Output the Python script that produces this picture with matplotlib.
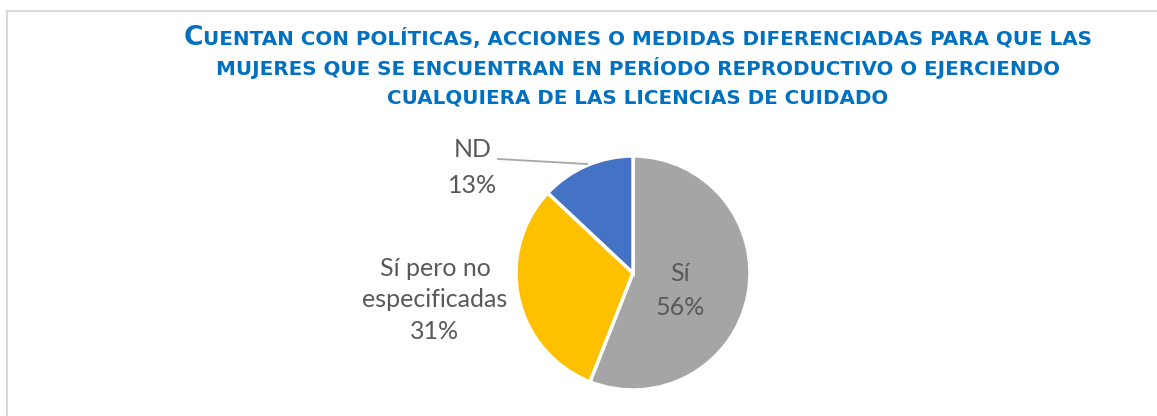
import matplotlib.pyplot as plt
from matplotlib.lines import Line2D

# Data
labels = ['Sí', 'Sí pero no\nespecificadas', 'ND']
values = [56, 31, 13]
colors = ['#A5A5A5', '#FFC000', '#4472C4']
title_lines = ['UENTAN CON POLÍTICAS, ACCIONES O MEDIDAS DIFERENCIADAS PARA QUE LAS',
               'MUJERES QUE SE ENCUENTRAN EN PERÍODO REPRODUCTIVO O EJERCIENDO',
               'CUALQUIERA DE LAS LICENCIAS DE CUIDADO']

W, H = 1157, 416
fig = plt.figure(figsize=(W / 100, H / 100), dpi=100)
ax = fig.add_axes([0, 0, 1, 1])

# pie in pixel space (y up)
cx, cy, r = 633, H - 273, 117
wedges, _ = ax.pie(values, colors=colors, startangle=90, counterclock=False,
                   center=(cx, cy), radius=r, frame=True,
                   wedgeprops=dict(edgecolor='white', linewidth=2.5))
ax.set_xlim(0, W)
ax.set_ylim(0, H)
ax.set_aspect('auto')
ax.axis('off')

# chart area border
ax.add_line(Line2D([7, 7], [0, H - 11], color='#D9D9D9', lw=1.5))
ax.add_line(Line2D([7, W], [H - 11, H - 11], color='#D9D9D9', lw=1.5))

# data labels, one text per line at the reference baselines
lab_font = dict(family='Lato', fontsize=18, color='#595959', ha='center', va='baseline')
label_pos = [(680, [281, 315]), (435, [276, 307, 339]), (473, [157, 193])]
for lab, val, (x, bases) in zip(labels, values, label_pos):
    lines = lab.split('\n') + [f'{val}%']
    for line, b in zip(lines, bases):
        ax.text(x, H - b, line, **lab_font)
ax.plot([498, 587], [H - 159, H - 164], color='#A6A6A6', lw=1.3)

# title (small caps imitation)
tcol = '#0070C0'
tkw = dict(fontweight='bold', family='DejaVu Sans', color=tcol, va='baseline')
renderer = fig.canvas.get_renderer()
ys = [H - 45, H - 75, H - 103]
cxt = 638

# fit the first line to its width in the reference
tfs = 12
big = ax.text(0, ys[0], 'C', fontsize=tfs * 1.33, ha='left', **tkw)
rest = ax.text(0, ys[0], title_lines[0], fontsize=tfs, ha='left', **tkw)
total = big.get_window_extent(renderer).width + rest.get_window_extent(renderer).width
tfs = tfs * 906 / total
big.set_fontsize(tfs * 1.33)
rest.set_fontsize(tfs)
wb = big.get_window_extent(renderer).width
wr = rest.get_window_extent(renderer).width
x0 = cxt - (wb + wr) / 2
big.set_x(x0)
rest.set_x(x0 + wb)
for line, y in zip(title_lines[1:], ys[1:]):
    ax.text(cxt, y, line, fontsize=tfs, ha='center', **tkw)

fig.savefig('out.png', dpi=100)
